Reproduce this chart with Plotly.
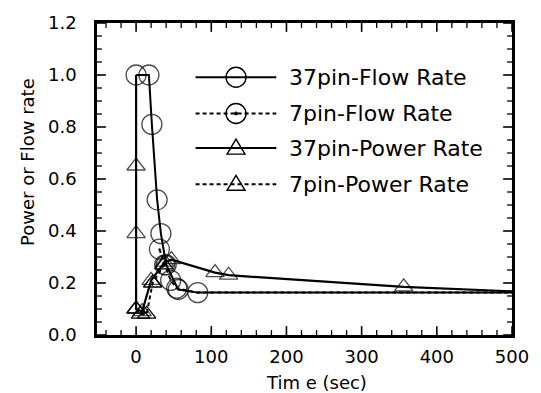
import plotly.graph_objects as go

# ---- data ----
flow37_t = [0, 17, 21, 28, 33, 40, 56, 82, 500]
flow37_v = [1.0, 1.0, 0.81, 0.52, 0.39, 0.27, 0.175, 0.163, 0.163]

flow7_t = [31, 38, 46, 54, 82, 500]
flow7_v = [0.33, 0.27, 0.21, 0.18, 0.163, 0.163]

power37_t = [0, 0, 0, 0, 8, 20, 38, 47, 105, 123, 356, 500]
power37_v = [1.0, 0.65, 0.39, 0.1, 0.09, 0.21, 0.28, 0.29, 0.24, 0.23, 0.185, 0.168]

power7_t = [0, 6, 14, 22, 37]
power7_v = [0.1, 0.08, 0.08, 0.2, 0.27]

legend_labels = ["37pin-Flow Rate", "7pin-Flow Rate", "37pin-Power Rate", "7pin-Power Rate"]
x_ticks = [0, 100, 200, 300, 400, 500]
y_ticks = [0.0, 0.2, 0.4, 0.6, 0.8, 1.0, 1.2]
x_title = "Tim e (sec)"
y_title = "Power or Flow rate"

FONT = "DejaVu Sans, sans-serif"
BLACK = "black"

W, H = 541, 393
ML, MR, MT, MB = 97, 23, 18, 58
PW, PH = W - ML - MR, H - MT - MB


def sizes(n, s, visible_count=None, hide_first=False, hide_last=False):
    out = [s] * n
    if visible_count is not None:
        out = [s if i < visible_count else 0 for i in range(n)]
    if hide_first:
        out[0] = 0
    if hide_last:
        out[-1] = 0
    return out


fig = go.Figure()

fig.add_trace(go.Scatter(
    x=flow37_t, y=flow37_v, mode="lines+markers",
    line=dict(color=BLACK, width=2),
    marker=dict(symbol="circle-open", size=sizes(len(flow37_t), 20, hide_last=True),
                color=BLACK, line=dict(width=1.3, color=BLACK)),
    showlegend=False))

fig.add_trace(go.Scatter(
    x=flow7_t, y=flow7_v, mode="lines+markers",
    line=dict(color=BLACK, width=2, dash="4px,3px"),
    marker=dict(symbol="circle-open-dot", size=sizes(len(flow7_t), 20, visible_count=4),
                color=BLACK, line=dict(width=1.3, color=BLACK)),
    showlegend=False))

fig.add_trace(go.Scatter(
    x=power37_t, y=power37_v, mode="lines+markers",
    line=dict(color=BLACK, width=2.2),
    marker=dict(symbol="triangle-up-open",
                size=sizes(len(power37_t), 16, hide_first=True, hide_last=True),
                color=BLACK, line=dict(width=1.3, color=BLACK)),
    showlegend=False))

fig.add_trace(go.Scatter(
    x=power7_t, y=power7_v, mode="lines+markers",
    line=dict(color=BLACK, width=2, dash="4px,3px"),
    marker=dict(symbol="triangle-up-open", size=16,
                color=BLACK, line=dict(width=1.3, color=BLACK)),
    showlegend=False))

shapes = []

# ---- inward tick marks on all four sides (paper-coordinate shapes) ----
X_MIN, X_MAX = -52, 500
Y_MIN, Y_MAX = 0.0, 1.2
MAJ, MIN_ = 9, 5
x_minor = [v for v in range(-40, 501, 20) if v % 100 != 0]
for xv, ln, w in [(v, MAJ, 1.6) for v in x_ticks] + [(v, MIN_, 1.3) for v in x_minor]:
    px = (xv - X_MIN) / (X_MAX - X_MIN)
    dl = ln / PH
    for y0, y1 in [(0, dl), (1 - dl, 1)]:
        shapes.append(dict(type="line", xref="paper", yref="paper",
                           x0=px, x1=px, y0=y0, y1=y1,
                           line=dict(color=BLACK, width=w), layer="above"))
y_minor = [round(i * 0.05, 2) for i in range(1, 24) if i % 4 != 0]
for yv, ln, w in [(v, MAJ, 1.6) for v in y_ticks] + [(v, MIN_, 1.3) for v in y_minor]:
    py = (yv - Y_MIN) / (Y_MAX - Y_MIN)
    dl = ln / PW
    for x0, x1 in [(0, dl), (1 - dl, 1)]:
        shapes.append(dict(type="line", xref="paper", yref="paper",
                           x0=x0, x1=x1, y0=py, y1=py,
                           line=dict(color=BLACK, width=w), layer="above"))

# ---- hand-drawn legend (paper coords over the plot area) ----
leg_rows = [0.826, 0.710, 0.599, 0.483]
leg_kind = ["circle", "circle-dot", "triangle", "triangle"]
leg_dash = ["solid", "4px,3px", "solid", "4px,3px"]
LX0, LXC, LX1, TX = 0.2375, 0.335, 0.432, 0.458
for lab, yy, kind, dsh in zip(legend_labels, leg_rows, leg_kind, leg_dash):
    shapes.append(dict(type="line", xref="paper", yref="paper", x0=LX0, x1=LX1, y0=yy, y1=yy,
                       line=dict(color=BLACK, width=2, dash=dsh)))
    if kind.startswith("circle"):
        shapes.append(dict(type="circle", xref="paper", yref="paper",
                           xsizemode="pixel", ysizemode="pixel", xanchor=LXC, yanchor=yy,
                           x0=-10, x1=10, y0=-10, y1=10,
                           line=dict(color=BLACK, width=1.4)))
        if kind == "circle-dot":
            shapes.append(dict(type="circle", xref="paper", yref="paper",
                               xsizemode="pixel", ysizemode="pixel", xanchor=LXC, yanchor=yy,
                               x0=-1.5, x1=1.5, y0=-1.5, y1=1.5,
                               fillcolor=BLACK, line=dict(color=BLACK, width=1)))
    else:
        shapes.append(dict(type="path", xref="paper", yref="paper",
                           xsizemode="pixel", ysizemode="pixel", xanchor=LXC, yanchor=yy,
                           path="M-9,-6 L9,-6 L0,9 Z",
                           line=dict(color=BLACK, width=1.4)))
    fig.add_annotation(x=TX, y=yy, xref="paper", yref="paper", text=lab, showarrow=False,
                       xanchor="left", yanchor="middle",
                       font=dict(family=FONT, size=22, color=BLACK))

# ---- axis titles (positioned like the original) ----
fig.add_annotation(x=0.53, y=-0.152, xref="paper", yref="paper", text=x_title, showarrow=False,
                   xanchor="center", yanchor="middle", font=dict(family=FONT, size=18, color=BLACK))
fig.add_annotation(x=-0.166, y=0.555, xref="paper", yref="paper", text=y_title, showarrow=False,
                   textangle=-90, xanchor="center", yanchor="middle",
                   font=dict(family=FONT, size=18, color=BLACK))

axis_common = dict(
    showgrid=False, zeroline=False, showline=True, linecolor=BLACK, linewidth=2.5,
    mirror=True, ticks="", tickfont=dict(family=FONT, size=18, color=BLACK),
)

fig.update_layout(
    width=W, height=H,
    margin=dict(l=ML, r=MR, t=MT, b=MB),
    paper_bgcolor="white", plot_bgcolor="white",
    font=dict(family=FONT, size=18, color=BLACK),
    shapes=shapes,
    xaxis=dict(range=[X_MIN, X_MAX], tickvals=x_ticks, ticktext=[str(v) for v in x_ticks],
               ticklabelstandoff=4, **axis_common),
    yaxis=dict(range=[Y_MIN, Y_MAX], tickvals=y_ticks, ticktext=[f"{v:.1f}" for v in y_ticks],
               ticklabelstandoff=14, **axis_common),
)

fig.write_html("out.html")
